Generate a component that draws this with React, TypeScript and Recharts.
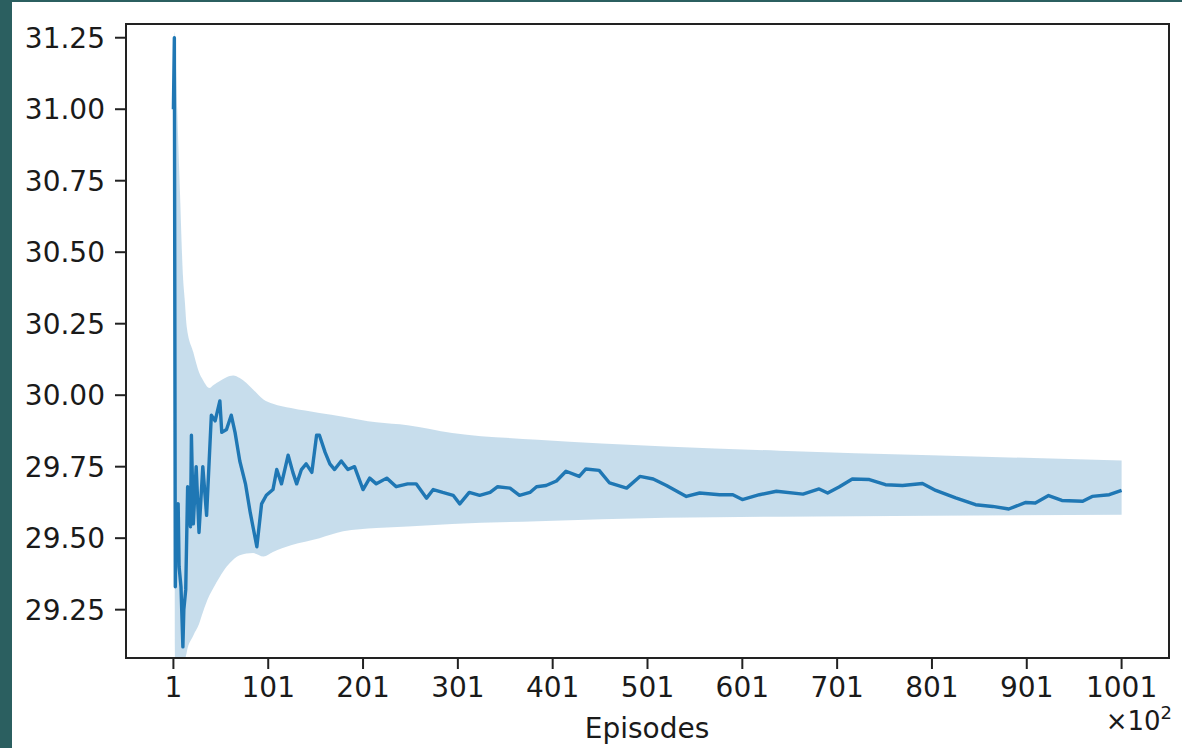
import React from 'react';
import { ComposedChart, Area, Line, XAxis, YAxis, ReferenceArea } from 'recharts';

// mean reward per episode (x100)
const lineEpisodes = [
  1, 2, 3, 4, 6, 7, 9, 11, 12, 14, 16, 19, 20, 22, 25, 28, 32, 36, 41, 45, 50, 52, 57, 62, 66, 71, 77, 82, 89, 94,
  99, 106, 110, 115, 122, 127, 131, 136, 141, 147, 152, 155, 161, 166, 171, 178, 185, 192, 201, 208, 215, 226, 236,
  248, 257, 268, 275, 285, 296, 303, 313, 324, 335, 343, 356, 366, 377, 384, 394, 405, 415, 429, 436, 450, 461, 479,
  493, 507, 521, 542, 556, 577, 591, 601, 619, 637, 665, 682, 691, 703, 717, 735, 752, 770, 791, 805, 826, 847, 865,
  882, 900, 910, 924, 938, 960, 970, 988, 1001,
];
const lineValues = [
  31.0, 31.25, 29.33, 29.6, 29.62, 29.4, 29.33, 29.12, 29.25, 29.32, 29.68, 29.54, 29.86, 29.55, 29.75, 29.52, 29.75,
  29.58, 29.93, 29.91, 29.98, 29.87, 29.88, 29.93, 29.87, 29.77, 29.69, 29.59, 29.47, 29.62, 29.65, 29.67, 29.74,
  29.69, 29.79, 29.73, 29.69, 29.74, 29.76, 29.73, 29.86, 29.86, 29.8, 29.76, 29.74, 29.77, 29.74, 29.75, 29.67,
  29.71, 29.69, 29.71, 29.68, 29.69, 29.69, 29.64, 29.67, 29.66, 29.65, 29.62, 29.66, 29.65, 29.66, 29.68, 29.675,
  29.65, 29.66, 29.68, 29.684, 29.7, 29.734, 29.716, 29.742, 29.737, 29.693, 29.675, 29.716, 29.707, 29.684, 29.646,
  29.658, 29.652, 29.652, 29.635, 29.652, 29.664, 29.654, 29.672, 29.658, 29.679, 29.707, 29.705, 29.687, 29.684,
  29.691, 29.667, 29.641, 29.617, 29.611, 29.602, 29.625, 29.623, 29.649, 29.632, 29.629, 29.646, 29.652, 29.667,
];

// shaded confidence band
const bandEpisodes = [
  1, 2, 3, 5, 8, 11, 13, 15, 22, 28, 32, 39, 43, 50, 57, 64, 71, 85, 96, 106, 125, 155, 180, 215, 248, 295, 385, 520,
  640, 800, 1001,
];
const bandUpper = [
  31.0, 31.27, 31.22, 31.0, 30.7, 30.42, 30.33, 30.24, 30.15, 30.08, 30.054, 30.025, 30.035, 30.05, 30.063, 30.069,
  30.06, 30.02, 29.985, 29.97, 29.955, 29.938, 29.925, 29.905, 29.895, 29.868, 29.844, 29.821, 29.806, 29.79, 29.772,
];
const bandLower = [
  31.0, 30.2, 28.6, 28.5, 28.7, 28.95, 29.06, 29.1, 29.16, 29.2, 29.24, 29.3, 29.325, 29.365, 29.4, 29.425, 29.44,
  29.448, 29.436, 29.452, 29.475, 29.5, 29.524, 29.536, 29.541, 29.55, 29.559, 29.571, 29.575, 29.578, 29.582,
];

const xTicks = [1, 101, 201, 301, 401, 501, 601, 701, 801, 901, 1001];
const yTicks = [29.25, 29.5, 29.75, 30.0, 30.25, 30.5, 30.75, 31.0, 31.25];
const xDomain = [-49, 1051];
const yDomain = [29.081, 31.298];

const FONT = '"DejaVu Sans", sans-serif';
const BLUE = '#1f77b4';
const AXIS = '#222';

export default function App() {
  const lineData = lineEpisodes.map((ep, i) => ({ ep, mean: lineValues[i] }));
  const bandData = bandEpisodes.map((ep, i) => ({ ep, band: [bandLower[i], bandUpper[i]] }));

  const tickStyle = { fill: '#1a1a1a', fontSize: 28, fontFamily: FONT };

  return (
    <div style={{ position: 'fixed', left: 0, top: 0, width: 1182, height: 748, background: '#2b5f60' }}>
      <div style={{ position: 'absolute', left: 12, top: 2, right: 0, bottom: 0, background: '#fff' }} />
      <div style={{ position: 'absolute', left: 0, top: 0 }}>
        <ComposedChart width={1182} height={748} margin={{ top: 24, right: 13, bottom: 0, left: 0 }}>
          <XAxis
            dataKey="ep"
            type="number"
            domain={xDomain}
            ticks={xTicks}
            allowDataOverflow
            interval={0}
            tick={tickStyle}
            tickSize={11}
            tickMargin={8}
            stroke={AXIS}
            strokeWidth={2}
            height={90}
          />
          <YAxis
            type="number"
            domain={yDomain}
            ticks={yTicks}
            allowDataOverflow
            interval={0}
            tickFormatter={(v: number) => v.toFixed(2)}
            tick={tickStyle}
            tickSize={11}
            tickMargin={10}
            stroke={AXIS}
            strokeWidth={2}
            width={126}
          />
          <Area
            data={bandData}
            dataKey="band"
            type="monotone"
            stroke="none"
            fill={BLUE}
            fillOpacity={0.25}
            isAnimationActive={false}
          />
          <Line
            data={lineData}
            dataKey="mean"
            type="linear"
            stroke={BLUE}
            strokeWidth={3.4}
            strokeLinejoin="round"
            dot={false}
            isAnimationActive={false}
          />
          <ReferenceArea
            x1={xDomain[0]}
            x2={xDomain[1]}
            y1={yDomain[0]}
            y2={yDomain[1]}
            fill="none"
            stroke={AXIS}
            strokeWidth={2}
            ifOverflow="extendDomain"
          />
        </ComposedChart>
      </div>
      <div
        style={{
          position: 'absolute',
          left: 647,
          top: 712,
          transform: 'translateX(-50%)',
          fontFamily: FONT,
          fontSize: 28,
          color: '#1a1a1a',
          whiteSpace: 'nowrap',
        }}
      >
        Episodes
      </div>
      <div
        style={{
          position: 'absolute',
          right: 10,
          top: 706,
          fontFamily: FONT,
          fontSize: 26,
          color: '#1a1a1a',
          whiteSpace: 'nowrap',
        }}
      >
        ×10<sup style={{ fontSize: 18, verticalAlign: 'top', position: 'relative', top: -4 }}>2</sup>
      </div>
    </div>
  );
}
